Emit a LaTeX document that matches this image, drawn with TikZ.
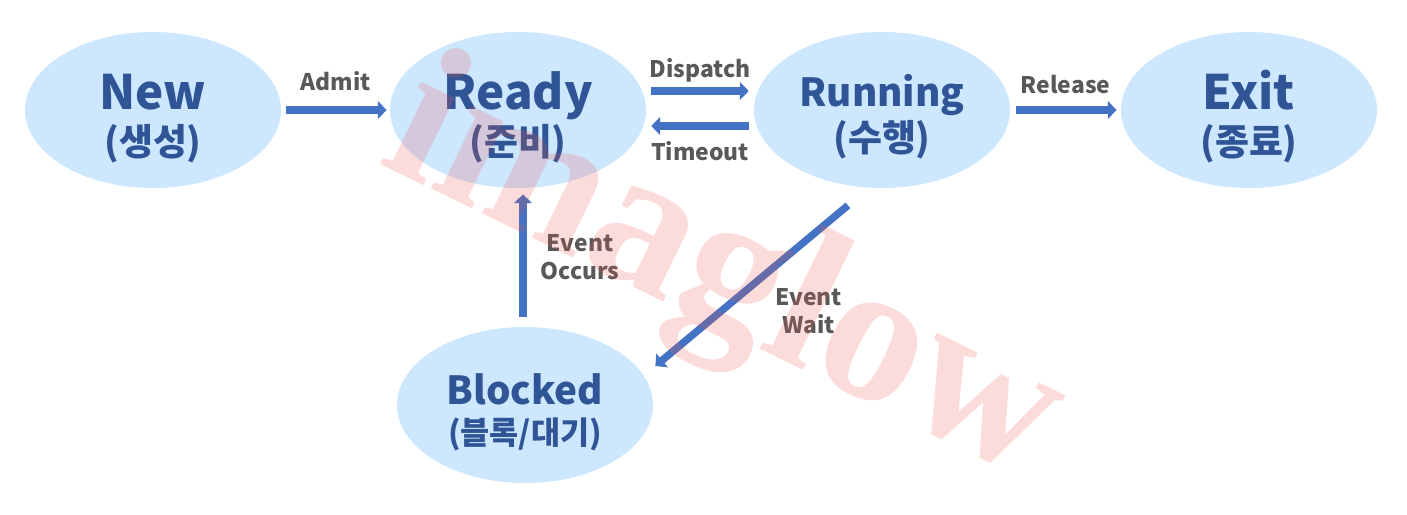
\documentclass[tikz,border=0pt]{standalone}
\usepackage{fontspec}
\setmainfont{Noto Sans CJK KR}
\newfontfamily\markfont{Liberation Serif}
\usepackage{xcolor}
\definecolor{mylightblue}{RGB}{205,231,255}
\definecolor{mydarkblue}{RGB}{47,85,151}
\definecolor{myarrowblue}{RGB}{68,114,196}
\definecolor{mygray}{RGB}{89,89,89}
\definecolor{mypink}{RGB}{240,80,70}
\usepackage{tikz}
\usetikzlibrary{calc}
\usetikzlibrary{arrows.meta}
\usetikzlibrary{shapes.geometric}
\newcommand{\widthstate}{51.2mm}
\newcommand{\heightstate}{31.2mm}
\newcommand{\bigname}[1]{{\fontsize{27}{27}\selectfont\rule{0pt}{30pt}#1}}
\newcommand{\smallname}[1]{{\fontsize{22}{22}\selectfont\rule{0pt}{26pt}#1}}
\tikzset{
    state/.style={ellipse, fill=mylightblue, minimum width=\widthstate, minimum height=\heightstate, inner sep=0pt, align=center, text=mydarkblue},
    big-state/.style={state, font=\fontsize{21}{26}\selectfont\bfseries},
    small-state/.style={state, font=\fontsize{18}{23}\selectfont\bfseries},
    trans/.style={draw=myarrowblue, line width=4.2pt, -{Triangle[length=5pt, width=10pt]}},
    trans-label/.style={font=\fontsize{13}{16}\selectfont\bfseries, text=mygray, align=center, inner sep=0pt},
    watermark/.style={font=\markfont\bfseries\fontsize{114}{114}\selectfont, text=mypink, opacity=0.2, rotate=-26}
}

\begin{document}
\begin{tikzpicture}[x=0.2mm, y=-0.2mm]
    \useasboundingbox (0,0) rectangle (1407,514);

    \path
        (153,110) node[big-state] (new) {\bigname{New}\\(생성)}
        (518,110) node[big-state] (ready) {\bigname{Ready}\\(준비)}
        (882,110) node[big-state] (running) {\smallname{Running}\\(수행)}
        (1249,110) node[big-state] (exit) {\bigname{Exit}\\(종료)}
        (525,405) node[small-state] (blocked) {\smallname{Blocked}\\(블록/대기)};

    \draw[trans, shorten <=2.8pt, shorten >=1.7pt] (new) -- node[trans-label, above=9pt] {Admit} (ready);
    \draw[trans, shorten <=2.8pt, shorten >=2.8pt] ($(ready.east)+(0,-19)$) -- node[trans-label, above=3pt] {Dispatch} ($(running.west)+(0,-19)$);
    \draw[trans, shorten <=2.8pt, shorten >=2.8pt] ($(running.west)+(0,16)$) -- node[trans-label, below=7pt] {Timeout} ($(ready.east)+(0,16)$);
    \draw[trans, shorten <=3.4pt, shorten >=2.3pt] (running) -- node[trans-label, above=7pt] {Release} (exit);
    \draw[trans, shorten <=5.7pt, shorten >=3.4pt] ($(blocked.north)+(-2,0)$) -- node[trans-label, right=8pt] {Event\\Occurs} ($(ready.south)+(5,0)$);
    \draw[trans] ($(running.south)+(-34,17)$) -- node[trans-label, pos=0.66, right=29pt] {Event\\Wait} ($(blocked.east)+(2,-39)$);

    \node[watermark] (mark) at (722,278) {imaglow};
\end{tikzpicture}
\end{document}
